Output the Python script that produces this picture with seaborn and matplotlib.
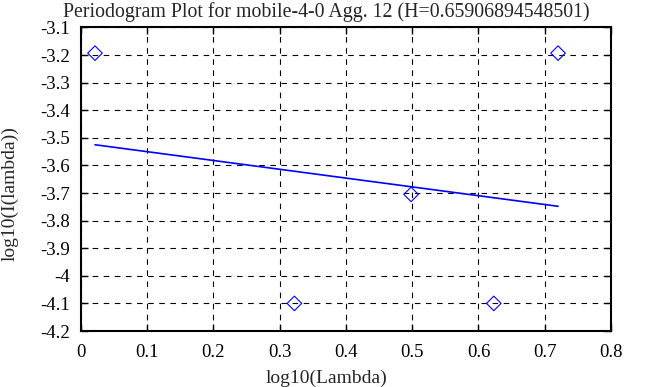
import matplotlib
matplotlib.use("Agg")
import matplotlib.pyplot as plt
import seaborn as sns
import pandas as pd

# data
log_lambda = [0.0212, 0.3222, 0.4983, 0.6232, 0.7202]
log_I = [-3.193, -4.100, -3.705, -4.100, -3.193]
fit_x = [0.0212, 0.7202]
fit_y = [-3.525, -3.748]

xticks = [0, 0.1, 0.2, 0.3, 0.4, 0.5, 0.6, 0.7, 0.8]
yticks = [-3.1, -3.2, -3.3, -3.4, -3.5, -3.6, -3.7, -3.8, -3.9, -4, -4.1, -4.2]

sns.set_style("ticks")
plt.rcParams['font.family'] = ['Liberation Serif', 'DejaVu Serif']

fig = plt.figure(figsize=(6.53, 3.87), dpi=100)
ax = fig.add_axes([0.124, 0.1447, 0.8116, 0.7843])

pts = pd.DataFrame({"x": log_lambda, "y": log_I})
fit = pd.DataFrame({"x": fit_x, "y": fit_y})

sns.lineplot(data=fit, x="x", y="y", ax=ax, color="#0000ff", linewidth=1.2)
sns.scatterplot(data=pts, x="x", y="y", ax=ax, marker="D", s=55,
                facecolor="none", edgecolor="#0000ff", linewidth=0.8, zorder=5)

ax.set_xlim(0, 0.8)
ax.set_ylim(-4.2, -3.1)
ax.set_xticks(xticks)
ax.set_xticklabels([f"{t:g}" for t in xticks])
ax.set_yticks(yticks)
ax.set_yticklabels([f"{t:g}" for t in yticks])
ax.grid(True, color="black", linestyle=(0, (5, 5)), linewidth=0.8)
ax.tick_params(direction="in", top=True, right=True, length=5, width=1, labelsize=13.5, colors="black")
ax.tick_params(axis="x", pad=9)
ax.tick_params(axis="y", pad=8)
for s in ax.spines.values():
    s.set_linewidth(1.5)
    s.set_color("black")
ax.set_xlabel("log10(Lambda)", fontsize=14)
ax.xaxis.set_label_coords(0.5, 1 - 378 / 387, transform=fig.transFigure)
ax.xaxis.label.set_va("center")
ax.set_ylabel("log10(I(lambda))", fontsize=14)
ax.yaxis.set_label_coords(10 / 653, 0.5, transform=fig.transFigure)
ax.yaxis.label.set_va("center")
fig.suptitle("Periodogram Plot for mobile-4-0 Agg. 12 (H=0.65906894548501)", fontsize=14.3,
             x=0.5, y=1 - 12 / 387, va="center")

fig.savefig("out.png", dpi=100)
